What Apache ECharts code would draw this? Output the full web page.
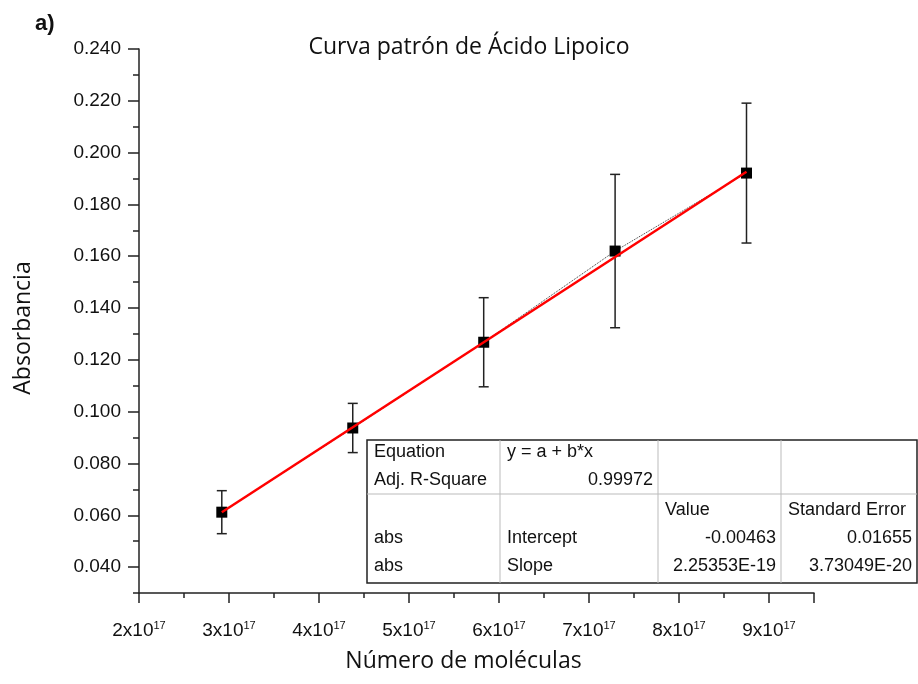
<!DOCTYPE html>
<html>
<head>
<meta charset="utf-8">
<script src="https://cdn.jsdelivr.net/npm/echarts@6/dist/echarts.min.js"></script>
<style>
html,body{margin:0;padding:0;background:#fff;}
#chart{width:918px;height:684px;}
</style>
</head>
<body>
<div id="chart"></div>
<script>
// ---- data ----
const molecules = [2.92e17, 4.375e17, 5.83e17, 7.29e17, 8.75e17];
const absorbance = [0.0612, 0.0937, 0.1268, 0.1620, 0.1921];
const errors = [0.0083, 0.0095, 0.0172, 0.0296, 0.0270];
const fitX = [2.92e17, 8.75e17];
const fitY = [0.0612, 0.1926];
const yMajorTicks = [0.04, 0.06, 0.08, 0.10, 0.12, 0.14, 0.16, 0.18, 0.20, 0.22, 0.24];
const yMinorTicks = [0.03, 0.05, 0.07, 0.09, 0.11, 0.13, 0.15, 0.17, 0.19, 0.21, 0.23];
const tableRows = [
  ['Equation', 'y = a + b*x', '', ''],
  ['Adj. R-Square', '0.99972', '', ''],
  ['', '', 'Value', 'Standard Error'],
  ['abs', 'Intercept', '-0.00463', '0.01655'],
  ['abs', 'Slope', '2.25353E-19', '3.73049E-20']
];
const titleText = 'Curva patrón de Ácido Lipoico';
const xTitle = 'Número de moléculas';
const yTitle = 'Absorbancia';

const chart = echarts.init(document.getElementById('chart'));

const F = 'Liberation Sans, Arial, sans-serif';
const TF = 'Open Sans, DejaVu Sans, sans-serif';

// table graphic
const tX = 367, tY = 440, tR = 917, tB = 583;
const colX = [367, 500, 658, 781, 917];
const rowY = [452, 480, 510, 538, 566];
const tableEls = [];
tableEls.push({type:'rect', shape:{x:tX, y:tY, width:tR-tX, height:tB-tY}, style:{fill:'#fff', stroke:'#222', lineWidth:1.5}, z:100});
[500, 658, 781].forEach(cx => tableEls.push({type:'line', shape:{x1:cx, y1:tY, x2:cx, y2:tB}, style:{stroke:'#bbb', lineWidth:1}, z:101}));
tableEls.push({type:'line', shape:{x1:tX, y1:494, x2:tR, y2:494}, style:{stroke:'#bbb', lineWidth:1}, z:101});
const align = [
  ['left','left','left','left'],
  ['left','right','left','left'],
  ['left','left','left','left'],
  ['left','left','right','right'],
  ['left','left','right','right']
];
tableRows.forEach((row, ri) => {
  row.forEach((txt, ci) => {
    if (!txt) return;
    const a = align[ri][ci];
    const x = a === 'left' ? colX[ci] + 7 : colX[ci+1] - 5;
    tableEls.push({type:'text', x:x, y:rowY[ri], z:102,
      style:{text:txt, font:'18px ' + F, fill:'#111', textAlign:a, textVerticalAlign:'middle'}});
  });
});

const option = {
  animation: false,
  backgroundColor: '#fff',
  title: {
    text: titleText,
    left: 464, top: 31, textAlign: 'center',
    textStyle: {fontFamily: TF, fontSize: 23, fontWeight: 'normal', color: '#111'}
  },
  grid: {left: 139, top: 49, right: 104, bottom: 91, containLabel: false},
  xAxis: {
    type: 'value', min: 2e17, max: 9.5e17, interval: 1e17,
    name: xTitle, nameLocation: 'middle', nameGap: 57,
    nameTextStyle: {fontFamily: TF, fontSize: 23, color: '#111', padding: [0, 26, 0, 0]},
    axisLine: {show: true, lineStyle: {color: '#222', width: 1.5}},
    axisTick: {show: true, inside: false, length: 10, lineStyle: {color: '#222', width: 1.5}},
    minorTick: {show: true, splitNumber: 2, length: 5, lineStyle: {color: '#222', width: 1.5}},
    splitLine: {show: false},
    axisLabel: {
      margin: 27,
      formatter: v => '{a|' + Math.round(v / 1e17) + 'x10}{b|17}',
      rich: {
        a: {fontFamily: F, fontSize: 19, color: '#111'},
        b: {fontFamily: F, fontSize: 11, color: '#111', padding: [0, 0, 11, 0]}
      }
    }
  },
  yAxis: [{
    type: 'value', min: 0.03, max: 0.24,
    name: yTitle, nameLocation: 'middle', nameGap: 104, nameRotate: 90,
    nameTextStyle: {fontFamily: TF, fontSize: 23, color: '#111', padding: [0, 14, 0, 0]},
    axisLine: {show: true, lineStyle: {color: '#222', width: 1.5}},
    axisTick: {show: true, length: 11, customValues: yMajorTicks, lineStyle: {color: '#222', width: 1.5}},
    splitLine: {show: false},
    axisLabel: {
      margin: 18, customValues: yMajorTicks,
      formatter: v => v.toFixed(3),
      fontFamily: F, fontSize: 19, color: '#111'
    }
  }, {
    type: 'value', min: 0.03, max: 0.24, position: 'left',
    axisLine: {show: false},
    axisTick: {show: true, length: 6, customValues: yMinorTicks, lineStyle: {color: '#222', width: 1.5}},
    axisLabel: {show: false},
    splitLine: {show: false}
  }],
  series: [
    {
      type: 'custom', z: 1,
      data: molecules.map((x, i) => [x, absorbance[i], errors[i]]),
      renderItem: (params, api) => {
        const x = api.value(0), y = api.value(1), e = api.value(2);
        const top = api.coord([x, y + e]);
        const bot = api.coord([x, y - e]);
        const w = 5;
        const st = {stroke: '#222', lineWidth: 1.5};
        return {type: 'group', children: [
          {type: 'line', shape: {x1: top[0], y1: top[1], x2: bot[0], y2: bot[1]}, style: st},
          {type: 'line', shape: {x1: top[0]-w, y1: top[1], x2: top[0]+w, y2: top[1]}, style: st},
          {type: 'line', shape: {x1: bot[0]-w, y1: bot[1], x2: bot[0]+w, y2: bot[1]}, style: st}
        ]};
      }
    },
    {
      type: 'line', z: 2,
      data: molecules.map((x, i) => [x, absorbance[i]]),
      symbol: 'rect', symbolSize: 11,
      itemStyle: {color: '#000'},
      lineStyle: {color: '#333', width: 1, type: 'dotted'}
    },
    {
      type: 'line', z: 3,
      data: fitX.map((x, i) => [x, fitY[i]]),
      symbol: 'none',
      lineStyle: {color: '#ff0000', width: 2.5}
    }
  ],
  graphic: [
    {type: 'text', x: 35, y: 24, style: {text: 'a)', font: 'bold 22px ' + F, fill: '#111', textVerticalAlign: 'middle'}},
    {type: 'group', children: tableEls}
  ]
};
chart.setOption(option);
</script>
</body>
</html>
